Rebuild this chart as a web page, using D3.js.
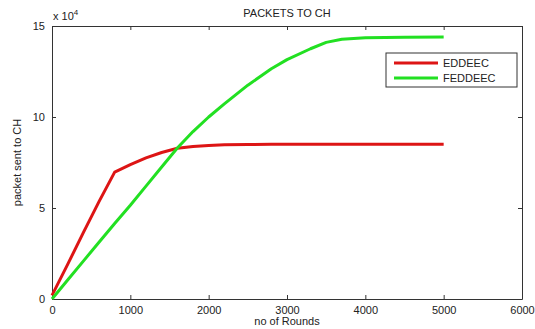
<!DOCTYPE html>
<html>
<head>
<meta charset="utf-8">
<script src="https://cdn.jsdelivr.net/npm/d3@7"></script>
<style>
  body { margin: 0; background: #fff; }
  text { font-family: "Liberation Sans", Arial, sans-serif; fill: #222; }
</style>
</head>
<body>
<div id="chart"></div>
<script>
// values (y in units of 10^4)
var rounds = [0, 200, 400, 600, 800, 1000, 1200, 1400, 1600, 1800, 2000, 2200, 2500, 2800, 3000, 3300, 3500, 3700, 4000, 4500, 5000];
var eddeec = [0.2, 1.9, 3.65, 5.35, 6.97, 7.38, 7.75, 8.05, 8.28, 8.38, 8.43, 8.47, 8.49, 8.5, 8.5, 8.5, 8.5, 8.5, 8.5, 8.5, 8.5];
var feddeec = [0, 1.04, 2.08, 3.12, 4.15, 5.15, 6.2, 7.25, 8.3, 9.2, 10.0, 10.72, 11.75, 12.65, 13.15, 13.75, 14.1, 14.27, 14.35, 14.38, 14.4];
var seriesNames = ["EDDEEC", "FEDDEEC"];
var seriesColors = ["#dd1515", "#22e022"];
var xTicks = [0, 1000, 2000, 3000, 4000, 5000, 6000];
var yTicks = [0, 5, 10, 15];

var W = 535, H = 329;
var margin = {top: 26, right: 13, bottom: 30, left: 52};
var width = W - margin.left - margin.right,
    height = H - margin.top - margin.bottom;

var svg = d3.select("#chart").append("svg").attr("width", W).attr("height", H);
var g = svg.append("g").attr("transform", "translate(" + margin.left + "," + margin.top + ")");

var x = d3.scaleLinear().domain([0, 6000]).range([0, width]);
var y = d3.scaleLinear().domain([0, 15]).range([height, 0]);

// box with inward ticks
function styleAxis(sel) {
    sel.selectAll("path").style("stroke", "#333").style("stroke-width", 1);
    sel.selectAll("line").style("stroke", "#333");
    sel.selectAll("text").style("font-size", "11px").style("fill", "#222");
}
var xb = g.append("g").attr("transform", "translate(0," + height + ")")
    .call(d3.axisBottom(x).tickValues(xTicks).tickFormat(d3.format("d")).tickSizeInner(-4).tickSizeOuter(0).tickPadding(7));
styleAxis(xb);
var xt = g.append("g")
    .call(d3.axisTop(x).tickValues(xTicks).tickSizeInner(-4).tickSizeOuter(0).tickFormat(""));
styleAxis(xt);
var yl = g.append("g")
    .call(d3.axisLeft(y).tickValues(yTicks).tickFormat(d3.format("d")).tickSizeInner(-4).tickSizeOuter(0).tickPadding(7));
styleAxis(yl);
var yr = g.append("g").attr("transform", "translate(" + width + ",0)")
    .call(d3.axisRight(y).tickValues(yTicks).tickSizeInner(-4).tickSizeOuter(0).tickFormat(""));
styleAxis(yr);

var allSeries = [eddeec, feddeec];
var line = d3.line()
    .x(function (d, i) { return x(rounds[i]); })
    .y(function (d) { return y(d); });

allSeries.forEach(function (s, k) {
    g.append("path")
        .datum(s)
        .attr("d", line)
        .style("fill", "none")
        .style("stroke", seriesColors[k])
        .style("stroke-width", 3)
        .style("stroke-linejoin", "round");
});

// title and labels
svg.append("text").attr("x", margin.left + width / 2).attr("y", 17)
    .attr("text-anchor", "middle").style("font-size", "11px").text("PACKETS TO CH");
var mult = svg.append("text").attr("x", 53).attr("y", 20).style("font-size", "11px");
mult.append("tspan").text("x 10");
mult.append("tspan").attr("dy", -5).style("font-size", "8px").text("4");
svg.append("text").attr("x", margin.left + width / 2).attr("y", 325)
    .attr("text-anchor", "middle").style("font-size", "11px").text("no of Rounds");
svg.append("text")
    .attr("transform", "translate(21," + (margin.top + height / 2) + ") rotate(-90)")
    .attr("text-anchor", "middle").style("font-size", "11px").text("packet sent to CH");

// legend
var lg = svg.append("g").attr("transform", "translate(386,53)");
lg.append("rect").attr("width", 131).attr("height", 34)
    .style("fill", "#fff").style("stroke", "#333").style("stroke-width", 1);
seriesNames.forEach(function (name, k) {
    var yy = 10 + k * 15;
    lg.append("line").attr("x1", 8).attr("x2", 52).attr("y1", yy).attr("y2", yy)
        .style("stroke", seriesColors[k]).style("stroke-width", 3);
    lg.append("text").attr("x", 57).attr("y", yy + 4).style("font-size", "11px").text(name);
});
</script>
</body>
</html>
